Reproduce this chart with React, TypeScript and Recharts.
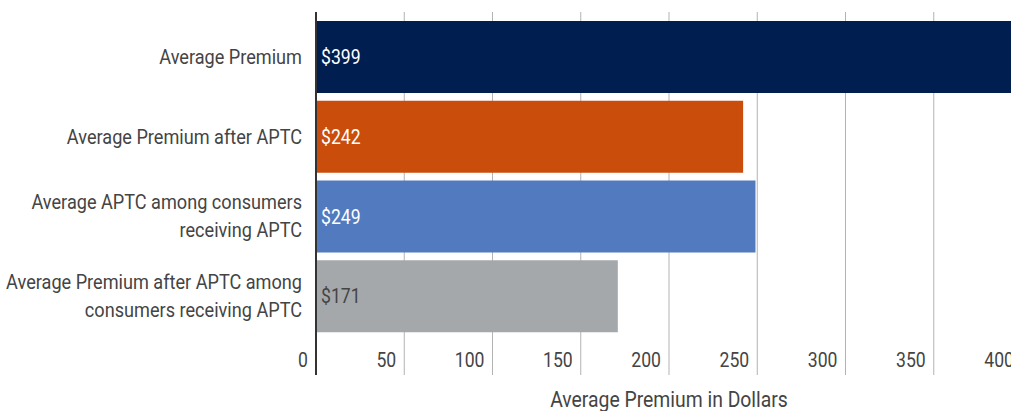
import { Bar, BarChart, CartesianGrid, Cell, LabelList, XAxis, YAxis } from "recharts";

const categories = [
  "Average Premium",
  "Average Premium after APTC",
  "Average APTC among consumers\nreceiving APTC",
  "Average Premium after APTC among\nconsumers receiving APTC"
];
const premiums = [399, 242, 249, 171];
const barColors = ["#001E50", "#CA4D0C", "#527BBF", "#A4A8AB"];
const valueColors = ["#FFFFFF", "#FFFFFF", "#FFFFFF", "#444444"];
const xTicks = [0, 50, 100, 150, 200, 250, 300, 350, 400];
const axisTitle = "Average Premium in Dollars";

const data = categories.map((name, i) => ({ name, value: premiums[i], idx: i }));

const FONT = "Roboto, 'Noto Sans', sans-serif";
const SQUEEZE = 0.88;
const TEXT = "#444444";

function CondensedText({ x, y, anchor, size, fill, children }: any) {
  return (
    <g transform={`translate(${x},${y}) scale(${SQUEEZE},1)`}>
      <text x={0} y={0} textAnchor={anchor} fontSize={size} fontFamily={FONT} fill={fill}>
        {children}
      </text>
    </g>
  );
}

function CategoryTick({ x, y, payload }: any) {
  const lines = String(payload.value).split("\n");
  const mid = (lines.length - 1) / 2;
  return (
    <g>
      {lines.map((line, i) => (
        <CondensedText key={i} x={x - 6} y={y + 7 + (i - mid) * 28} anchor="end" size={20.6} fill={TEXT}>
          {line}
        </CondensedText>
      ))}
    </g>
  );
}

function ValueTick({ x, y, payload }: any) {
  return (
    <CondensedText x={x - 8} y={y - 8} anchor="end" size={20} fill={TEXT}>
      {payload.value}
    </CondensedText>
  );
}

function AxisTitle({ viewBox }: any) {
  const { x, y, width } = viewBox;
  return (
    <CondensedText x={x + width / 2} y={y + 32} anchor="middle" size={22} fill={TEXT}>
      {axisTitle}
    </CondensedText>
  );
}

function BarValue({ x, y, height, value, index }: any) {
  return (
    <CondensedText x={x + 5} y={y + height / 2 + 7} anchor="start" size={20} fill={valueColors[index]}>
      {`$${value}`}
    </CondensedText>
  );
}

export default function App() {
  return (
    <div style={{ position: "absolute", left: 0, top: 0, width: 1011, height: 411, overflow: "hidden", background: "#fff" }}>
      <BarChart
        width={1060}
        height={411}
        data={data}
        layout="vertical"
        barCategoryGap={4}
        margin={{ top: 12, right: 38, bottom: 0, left: 0 }}
      >
        <CartesianGrid horizontal={false} stroke="#B3B3B3" />
        <XAxis
          type="number"
          domain={[0, 400]}
          ticks={xTicks}
          interval={0}
          height={36}
          axisLine={false}
          tickLine={false}
          tickSize={0}
          tickMargin={0}
          tick={<ValueTick />}
          label={<AxisTitle />}
        />
        <YAxis
          type="category"
          dataKey="name"
          width={316}
          padding={{ top: 5, bottom: 39 }}
          axisLine={{ stroke: "#333333", strokeWidth: 2 }}
          tickLine={false}
          interval={0}
          tick={<CategoryTick />}
        />
        <Bar dataKey="value" isAnimationActive={false}>
          {data.map((d) => (
            <Cell key={d.name} fill={barColors[d.idx]} />
          ))}
          <LabelList dataKey="value" content={<BarValue />} />
        </Bar>
      </BarChart>
    </div>
  );
}
